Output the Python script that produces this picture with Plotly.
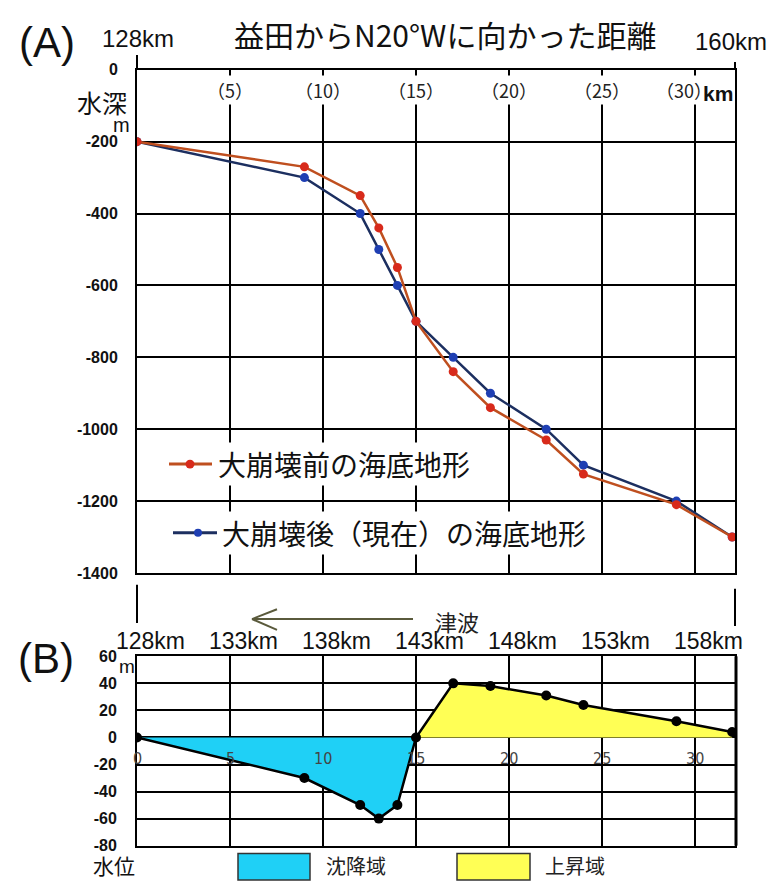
import plotly.graph_objects as go

W, H = 775, 887

# ---------------- data ----------------
# Panel A: distance (km from 128km point) and sea-floor depth (m)
dist_km = [0, 9, 12, 13, 14, 15, 17, 19, 22, 24, 29, 32]
depth_before = [-200, -270, -350, -440, -550, -700, -840, -940, -1030, -1125, -1210, -1300]
depth_after = [-200, -300, -400, -500, -600, -700, -800, -900, -1000, -1100, -1200, -1300]

# Panel B: water-level change (m)
level_change = [0, -30, -50, -60, -50, 0, 40, 38, 31, 24, 12, 4]

a_y_ticks = [0, -200, -400, -600, -800, -1000, -1200, -1400]
b_y_ticks = [60, 40, 20, 0, -20, -40, -60, -80]
a_top_tickvals = [5, 10, 15, 20, 25, 30]
a_top_labels = ["（5）", "（10）", "（15）", "（20）", "（25）", "（30）"]
b_top_tickvals = [0, 5, 10, 15, 20, 25, 30]
b_top_labels = ["128km", "133km", "138km", "143km", "148km", "153km", "158km"]
b_inner_labels = ["0", "5", "10", "15", "20", "25", "30"]

title_text = "益田からN20°Wに向かった距離"
legend_before = "大崩壊前の海底地形"
legend_after = "大崩壊後（現在）の海底地形"
legend_down = "沈降域"
legend_up = "上昇域"

# ---------------- styles ----------------
JP = "Noto Sans CJK JP"
LAT = "Liberation Sans, Arial, sans-serif"
RED_LINE, RED_MK = "#bf4f1f", "#d82a1b"
BLUE_LINE, BLUE_MK = "#1c2f60", "#1f3fb3"
CYAN, YELLOW = "#1fd0f6", "#ffff55"
X_MAX = 32.15


def px(x):
    return x / W


def py(y):
    return 1 - y / H


fig = go.Figure()

# Panel A traces
fig.add_trace(go.Scatter(x=dist_km, y=depth_after, mode="lines+markers",
                         line=dict(color=BLUE_LINE, width=2.5),
                         marker=dict(color=BLUE_MK, size=9),
                         name=legend_after, xaxis="x", yaxis="y", showlegend=False))
fig.add_trace(go.Scatter(x=dist_km, y=depth_before, mode="lines+markers",
                         line=dict(color=RED_LINE, width=2.5),
                         marker=dict(color=RED_MK, size=9),
                         name=legend_before, xaxis="x", yaxis="y", showlegend=False))

# Panel B fills (split where the change crosses zero)
split = level_change.index(0, 1)
fig.add_trace(go.Scatter(x=dist_km[:split + 1], y=level_change[:split + 1], mode="none",
                         fill="tozeroy", fillcolor=CYAN, name=legend_down,
                         xaxis="x2", yaxis="y2", showlegend=False))
fig.add_trace(go.Scatter(x=dist_km[split:], y=level_change[split:], mode="none",
                         fill="tozeroy", fillcolor=YELLOW, name=legend_up,
                         xaxis="x2", yaxis="y2", showlegend=False))
fig.add_trace(go.Scatter(x=dist_km, y=level_change, mode="lines+markers",
                         line=dict(color="black", width=2.5),
                         marker=dict(color="black", size=10),
                         xaxis="x2", yaxis="y2", showlegend=False))

axis_common = dict(showgrid=True, gridcolor="black", gridwidth=2, showline=True,
                   linecolor="black", linewidth=2, mirror=True, zeroline=False)
xdom = [px(137), px(735)]

fig.update_layout(
    width=W, height=H, margin=dict(l=0, r=0, t=0, b=0),
    paper_bgcolor="white", plot_bgcolor="white",
    xaxis=dict(domain=xdom, range=[0, X_MAX], anchor="y", tick0=0, dtick=5,
               showticklabels=False, ticks="", **axis_common),
    yaxis=dict(domain=[py(576), py(63)], range=[-1400, 0], anchor="x",
               tickvals=a_y_ticks, ticktext=["<b>%d</b>" % v for v in a_y_ticks],
               tickfont=dict(family=LAT, size=16, color="#111"),
               ticklabelstandoff=14, ticks="", **axis_common),
    xaxis2=dict(domain=xdom, range=[0, X_MAX], anchor="y2", tick0=0, dtick=5,
                showticklabels=False, ticks="", **axis_common),
    yaxis2=dict(domain=[py(854), py(661)], range=[-80, 60], anchor="x2",
                tickvals=b_y_ticks, ticktext=["<b>%d</b>" % v for v in b_y_ticks],
                tickfont=dict(family=LAT, size=16, color="#111"),
                ticklabelstandoff=15, ticks="", **axis_common),
)

ann = []


def txt(x, y, t, size, family=JP, color="#111", xanchor="center", bg=None, **kw):
    d = dict(x=px(x), y=py(y), xref="paper", yref="paper", text=t, showarrow=False,
             xanchor=xanchor, yanchor="middle",
             font=dict(family=family, size=size, color=color))
    if bg:
        d["bgcolor"] = bg
    d.update(kw)
    ann.append(d)


# Panel A texts
txt(47, 35, "(A)", 42, family=LAT)
txt(445, 26, title_text, 30)
txt(138, 31, "128km", 24, family=LAT)
txt(731, 34, "160km", 24, family=LAT)
txt(102, 96, "水深", 25)
txt(121, 119, "m", 20, family=LAT)
for v, lab in zip(a_top_tickvals, a_top_labels):
    ann.append(dict(x=v, y=py(84), xref="x", yref="paper", text=lab, showarrow=False,
                    xanchor="center", yanchor="middle", bgcolor="white",
                    xshift=-11 if v == 30 else 0,
                    font=dict(family=JP, size=18, color="#222")))
txt(718, 87, "<b>km</b>", 21, family=LAT)
txt(216, 465, legend_before, 28, xanchor="left", bg="white")
txt(220, 535, legend_after, 28, xanchor="left", bg="white")

# Between panels
txt(457, 625, "津波", 22, color="#222")

# Panel B texts
txt(46, 663, "(B)", 42, family=LAT)
for v, lab in zip(b_top_tickvals, b_top_labels):
    ann.append(dict(x=v, y=py(645), xref="x2", yref="paper", text=lab, showarrow=False,
                    xanchor="center", yanchor="middle", xshift=13,
                    font=dict(family=LAT, size=23, color="#111")))
txt(127, 671, "m", 19, family=LAT)
for v, lab in zip(b_top_tickvals, b_inner_labels):
    ann.append(dict(x=v, y=0, xref="x2", yref="y2", text=lab, showarrow=False,
                    xanchor="center", yanchor="middle", yshift=-21,
                    font=dict(family="Liberation Sans Narrow, DejaVu Sans Condensed, Liberation Sans",
                              size=16, color="#444")))
txt(114, 874, "水位", 21)
txt(356, 874, legend_down, 20, color="#222")
txt(575, 874, legend_up, 20, color="#222")

shapes = []


def seg(x0, y0, x1, y1, color="black", width=2):
    shapes.append(dict(type="line", xref="paper", yref="paper",
                       x0=px(x0), y0=py(y0), x1=px(x1), y1=py(y1),
                       line=dict(color=color, width=width)))


# axis-line extensions above panel A and the connectors between panels
seg(137, 63, 137, 48)
seg(735, 63, 735, 55)
seg(137, 588, 137, 627)
seg(735, 592, 735, 630)
# thicker right edge of panel B
seg(736, 661, 736, 854, width=3)

# tsunami arrow (open head pointing left)
ARROW = "#5a5a3c"
seg(413, 623, 253, 623, color=ARROW, width=2)
seg(252, 623, 277, 613, color=ARROW, width=2)
seg(252, 623, 277, 634, color=ARROW, width=2)

# legend samples for panel A
seg(169, 465, 212, 465, color=RED_LINE, width=3)
shapes.append(dict(type="circle", xref="paper", yref="paper",
                   x0=px(185.5), x1=px(194.5), y0=py(460.5), y1=py(469.5),
                   fillcolor=RED_MK, line=dict(width=0)))
seg(173, 535, 217, 535, color=BLUE_LINE, width=3)
shapes.append(dict(type="circle", xref="paper", yref="paper",
                   x0=px(194), x1=px(202), y0=py(531), y1=py(539),
                   fillcolor=BLUE_MK, line=dict(width=0)))

# legend boxes for panel B
shapes.append(dict(type="rect", xref="paper", yref="paper",
                   x0=px(238), x1=px(310), y0=py(862), y1=py(889),
                   fillcolor=CYAN, line=dict(color="#333", width=1.5)))
shapes.append(dict(type="rect", xref="paper", yref="paper",
                   x0=px(457), x1=px(530), y0=py(862), y1=py(889),
                   fillcolor=YELLOW, line=dict(color="#333", width=1.5)))

fig.update_layout(annotations=ann, shapes=shapes)
fig.write_html(
    "out.html",
    config={"displayModeBar": False},
    post_script="document.body.style.margin='0';document.body.style.overflow='hidden';",
)
